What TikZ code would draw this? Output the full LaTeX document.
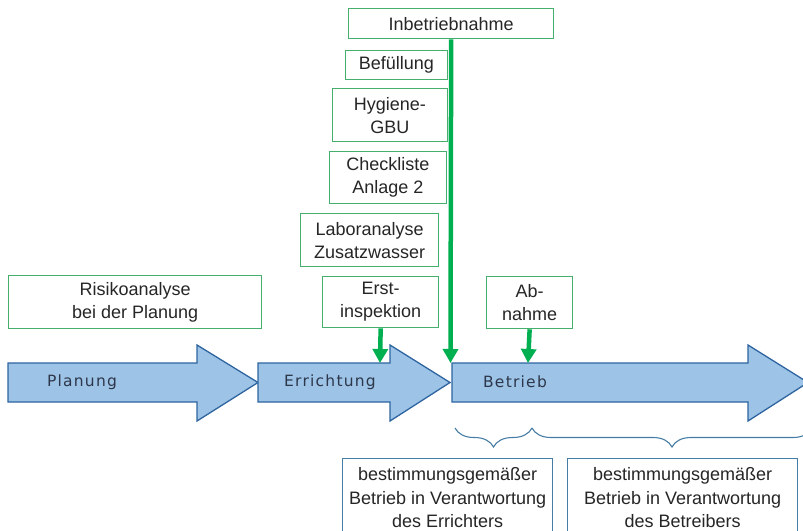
\documentclass[tikz,border=0pt]{standalone}
\usepackage{fontspec}
\setmainfont{Liberation Sans}
\newfontfamily\phasefont[LetterSpace=8]{DejaVu Sans}
\usetikzlibrary{positioning,calc}
\usetikzlibrary{arrows.meta}
\usetikzlibrary{decorations.pathreplacing}
\definecolor{arrowfill}{RGB}{157,195,230}
\definecolor{arrowdraw}{RGB}{46,100,160}
\definecolor{boxgreen}{RGB}{70,175,110}
\definecolor{pushgreen}{RGB}{0,176,80}
\definecolor{bracecol}{RGB}{70,125,165}
\definecolor{labelcol}{RGB}{45,55,75}

\begin{document}
\begin{tikzpicture}[x=1pt,y=-1pt,
      gbox/.style={draw=boxgreen, line width=1.3pt, fill=white, align=center,
         inner sep=2pt, font=\fontsize{18}{23}\selectfont, text=black!85},
      bbox/.style={draw=bracecol, line width=1.3pt, fill=white, align=center,
         inner sep=2pt, font=\fontsize{18}{23.5}\selectfont, text=black!85},
      phase/.style={fill=arrowfill, draw=arrowdraw, line width=1.3pt},
      plabel/.style={font=\phasefont\fontsize{15.5}{17}\selectfont, text=labelcol},
      push/.style={draw=pushgreen, line width=4.5pt,
         -{Triangle[width=15pt,length=14pt]}},
      phbrace/.style={draw=bracecol, line width=1.1pt,
         decoration={brace,mirror,amplitude=19pt}, decorate}]
   \useasboundingbox (0,0) rectangle (803,530);

   % phase arrows
   \draw[phase] (8,363) -- (197,363) -- (197,345) -- (258,382.5)
      -- (197,421) -- (197,402) -- (8,402) -- cycle;
   \draw[phase] (258,363) -- (390,363) -- (390,345) -- (450,382.5)
      -- (390,421) -- (390,402) -- (258,402) -- cycle;
   \draw[phase] (452,363) -- (748,363) -- (748,345) -- (808,382.5)
      -- (748,421) -- (748,402) -- (452,402) -- cycle;

   \node[plabel] (p0) at (82,382)  {Planung};
   \node[plabel] (p1) at (330,382) {Errichtung};
   \node[plabel] (p2) at (515,382) {Betrieb};

   % targets on the arrow edge
   \coordinate (t1) at (380,363);
   \coordinate (t2) at (450.5,363);
   \coordinate (t3) at (528,363);

   % boxes above
   \node[gbox, minimum width=253, minimum height=53, anchor=north west]
      (r0) at (8,275) {Risikoanalyse\\bei der Planung};
   \node[gbox, minimum width=205, minimum height=30, anchor=north west]
      (c0) at (348,8) {Inbetriebnahme};
   \node[gbox, minimum width=102, minimum height=29, anchor=north east]
      (c1) at (448,50) {Bef\"ullung};
   \node[gbox, minimum width=115, minimum height=53, anchor=north east]
      (c2) at (448,88) {Hygiene-\\GBU};
   \node[gbox, minimum width=117, minimum height=52, anchor=north east]
      (c3) at (447,151) {Checkliste\\Anlage 2};
   \node[gbox, minimum width=138, minimum height=53, anchor=north west]
      (c4) at (300,213) {Laboranalyse\\Zusatzwasser};
   \node[gbox, minimum width=116, minimum height=51, anchor=north west]
      (c5) at (322,276) {Erst-\\inspektion};
   \node[gbox, minimum width=86, minimum height=52, anchor=north west]
      (c6) at (486,276) {Ab-\\nahme};

   % green pushes
   \draw[push] (c5.south) -- (t1);
   \draw[push] (c0.south) -- (t2);
   \draw[push] (c6.south) -- (t3);

   % braces
   \coordinate (b0) at (455,428);
   \coordinate (b1) at (532,428);
   \coordinate (b2) at (812,428);
   \draw[phbrace] (b0) -- (b1);
   \draw[phbrace] (b1) -- (b2);

   % boxes below
   \node[bbox, minimum width=210, minimum height=78, anchor=north west]
      (d0) at (342,458) {bestimmungsgem\"a\ss er\\Betrieb in Verantwortung\\des Errichters};
   \node[bbox, minimum width=230, minimum height=78, anchor=north west]
      (d1) at (567,458) {bestimmungsgem\"a\ss er\\Betrieb in Verantwortung\\des Betreibers};
\end{tikzpicture}
\end{document}
